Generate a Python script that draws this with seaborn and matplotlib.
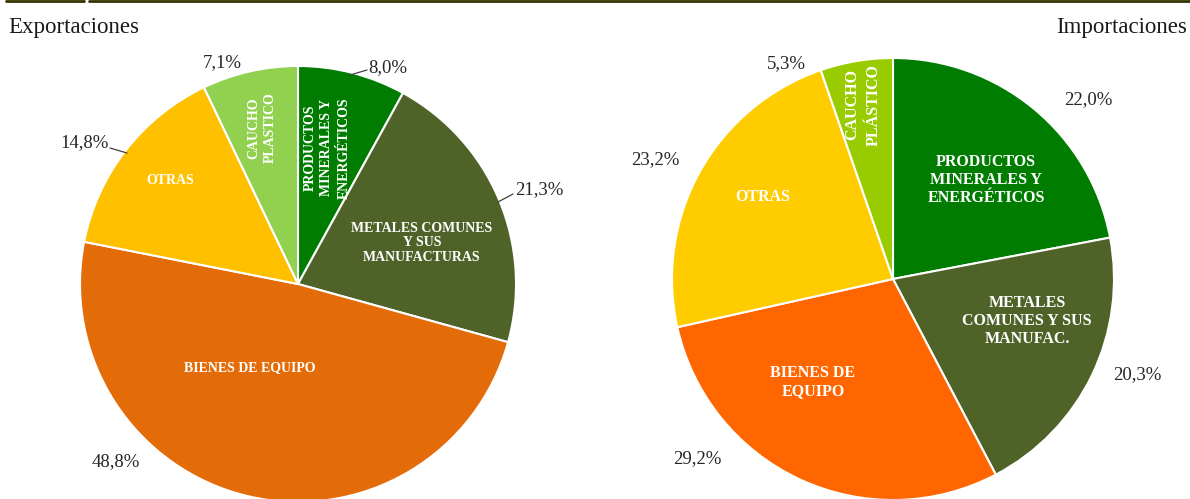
import matplotlib
matplotlib.use("Agg")
import matplotlib.pyplot as plt
from matplotlib.lines import Line2D
import seaborn as sns

# Export / import composition by product group (%)
export_labels = ["PRODUCTOS\nMINERALES Y\nENERGÉTICOS", "METALES COMUNES\nY SUS\nMANUFACTURAS",
                 "BIENES DE EQUIPO", "OTRAS", "CAUCHO\nPLASTICO"]
export_values = [8.0, 21.3, 48.8, 14.8, 7.1]

import_labels = ["PRODUCTOS\nMINERALES Y\nENERGÉTICOS", "METALES\nCOMUNES Y SUS\nMANUFAC.",
                 "BIENES DE\nEQUIPO", "OTRAS", "CAUCHO\nPLÁSTICO"]
import_values = [22.0, 20.3, 29.2, 23.2, 5.3]

export_colors = ["#007d00", "#4f6228", "#e36c09", "#ffc000", "#92d050"]
import_colors = ["#007d00", "#4f6228", "#ff6600", "#ffcc00", "#99cc00"]

sns.set_theme(style="white")
plt.rcParams["font.family"] = ["Liberation Serif", "DejaVu Serif"]

W, H = 1190, 499
fig = plt.figure(figsize=(W / 100, H / 100), dpi=100)
fig.patch.set_facecolor("white")


def pie_axes(cx, cy, r):
    return fig.add_axes([(cx - r) / W, (H - cy - r) / H, 2 * r / W, 2 * r / H])


def px(cx, cy, r, x, y):
    return (x - cx) / r, (cy - y) / r


def fmt(v):
    return f"{v:.1f}".replace(".", ",") + "%"


def draw(ax, geom, values, colors, labels, inner, outer, leaders, inner_size):
    cx, cy, r = geom
    ax.pie(values, colors=colors, startangle=90, counterclock=False, radius=1,
           wedgeprops=dict(edgecolor="white", linewidth=1.5))
    ax.set_xlim(-1, 1)
    ax.set_ylim(-1, 1)
    ax.set_aspect("auto")
    ax.axis("off")
    for lab, (x, y, rot) in zip(labels, inner):
        dx, dy = px(cx, cy, r, x, y)
        ax.text(dx, dy, lab, color="white", fontsize=inner_size, fontweight="bold",
                ha="center", va="center", rotation=rot,
                linespacing=1.4 if rot else 1.15,
                multialignment="center", clip_on=False)
    for v, (x, y) in zip(values, outer):
        dx, dy = px(cx, cy, r, x, y)
        ax.text(dx, dy, fmt(v), color="#262626", fontsize=13.5, ha="center", va="center",
                clip_on=False)
    for (x0, y0, x1, y1) in leaders:
        a = px(cx, cy, r, x0, y0)
        b = px(cx, cy, r, x1, y1)
        ax.plot([a[0], b[0]], [a[1], b[1]], color="#404040", lw=0.9, clip_on=False)


left = (298, 284, 218)
right = (893, 279, 221)

ax1 = pie_axes(*left)
draw(ax1, left, export_values, export_colors, export_labels,
     inner=[(327, 148, 90), (422, 243, 0), (250, 368, 0), (170, 180, 0), (262, 128, 90)],
     outer=[(388, 68), (539, 190), (116, 462), (85, 143), (222, 63)],
     leaders=[(350, 75, 367, 70), (498, 202, 513, 194), (127, 153, 110, 148)],
     inner_size=10)

ax2 = pie_axes(*right)
draw(ax2, right, import_values, import_colors, import_labels,
     inner=[(986, 180, 0), (1027, 321, 0), (813, 382, 0), (763, 197, 0), (863, 105, 90)],
     outer=[(1088, 100), (1137, 375), (697, 459), (655, 160), (786, 64)],
     leaders=[],
     inner_size=11.5)

fig.text(8 / W, 1 - 28 / H, "Exportaciones", fontsize=16.5, color="#1a1a1a",
         ha="left", va="center")
fig.text(1187 / W, 1 - 28 / H, "Importaciones", fontsize=16.5, color="#1a1a1a",
         ha="right", va="center")

# thin rule along the top edge
for x0, x1 in [(6, 84), (89, 1190)]:
    fig.add_artist(Line2D([x0 / W, x1 / W], [1 - 1 / H, 1 - 1 / H], color="#333300",
                          lw=2, transform=fig.transFigure))

fig.savefig("out.png", dpi=100, facecolor="white")
